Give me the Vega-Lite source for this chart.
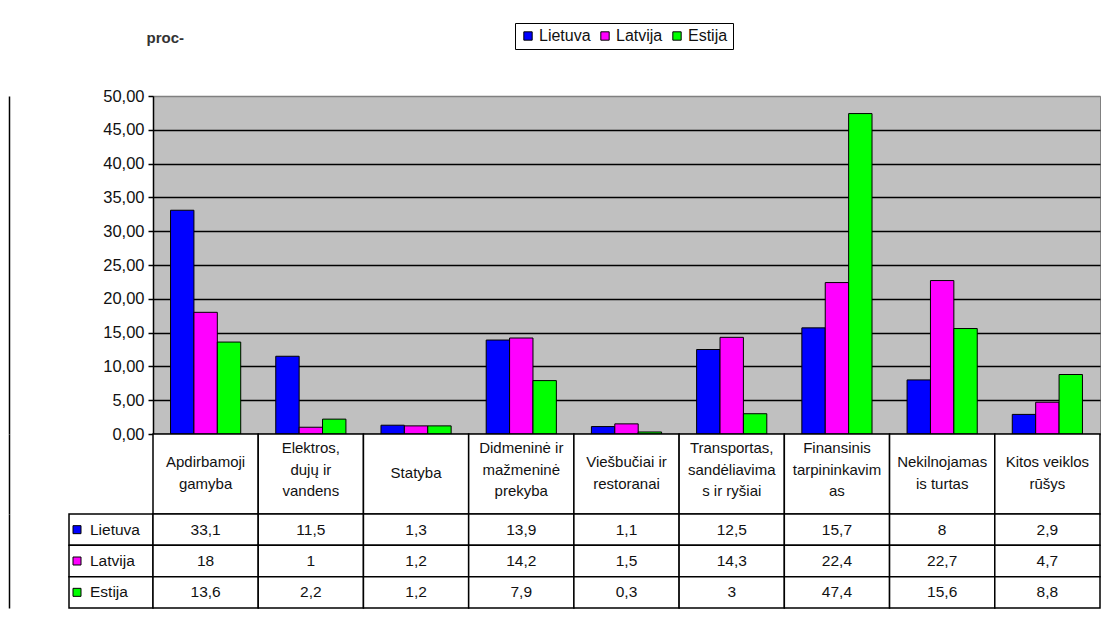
{
  "$schema": "https://vega.github.io/schema/vega-lite/v6.json",
  "padding": {"left": 9, "top": 22, "right": 0, "bottom": 10},
  "config": {
    "font": "Liberation Sans",
    "view": {"stroke": null},
    "locale": {"number": {"decimal": ",", "thousands": " ", "grouping": [3], "currency": ["", " €"]}}
  },
  "datasets": {
    "d": [
      {"cat": "Apdirbamoji\ngamyba", "country": "Lietuva", "value": 33.1},
      {"cat": "Apdirbamoji\ngamyba", "country": "Latvija", "value": 18},
      {"cat": "Apdirbamoji\ngamyba", "country": "Estija", "value": 13.6},
      {"cat": "Elektros,\ndujų ir\nvandens", "country": "Lietuva", "value": 11.5},
      {"cat": "Elektros,\ndujų ir\nvandens", "country": "Latvija", "value": 1},
      {"cat": "Elektros,\ndujų ir\nvandens", "country": "Estija", "value": 2.2},
      {"cat": "Statyba", "country": "Lietuva", "value": 1.3},
      {"cat": "Statyba", "country": "Latvija", "value": 1.2},
      {"cat": "Statyba", "country": "Estija", "value": 1.2},
      {"cat": "Didmeninė ir\nmažmeninė\nprekyba", "country": "Lietuva", "value": 13.9},
      {"cat": "Didmeninė ir\nmažmeninė\nprekyba", "country": "Latvija", "value": 14.2},
      {"cat": "Didmeninė ir\nmažmeninė\nprekyba", "country": "Estija", "value": 7.9},
      {"cat": "Viešbučiai ir\nrestoranai", "country": "Lietuva", "value": 1.1},
      {"cat": "Viešbučiai ir\nrestoranai", "country": "Latvija", "value": 1.5},
      {"cat": "Viešbučiai ir\nrestoranai", "country": "Estija", "value": 0.3},
      {"cat": "Transportas,\nsandėliavima\ns ir  ryšiai", "country": "Lietuva", "value": 12.5},
      {"cat": "Transportas,\nsandėliavima\ns ir  ryšiai", "country": "Latvija", "value": 14.3},
      {"cat": "Transportas,\nsandėliavima\ns ir  ryšiai", "country": "Estija", "value": 3},
      {"cat": "Finansinis\ntarpininkavim\nas", "country": "Lietuva", "value": 15.7},
      {"cat": "Finansinis\ntarpininkavim\nas", "country": "Latvija", "value": 22.4},
      {"cat": "Finansinis\ntarpininkavim\nas", "country": "Estija", "value": 47.4},
      {"cat": "Nekilnojamas\nis turtas", "country": "Lietuva", "value": 8},
      {"cat": "Nekilnojamas\nis turtas", "country": "Latvija", "value": 22.7},
      {"cat": "Nekilnojamas\nis turtas", "country": "Estija", "value": 15.6},
      {"cat": "Kitos veiklos\nrūšys", "country": "Lietuva", "value": 2.9},
      {"cat": "Kitos veiklos\nrūšys", "country": "Latvija", "value": 4.7},
      {"cat": "Kitos veiklos\nrūšys", "country": "Estija", "value": 8.8}
    ]
  },
  "columns": 2,
  "spacing": 0,
  "bounds": "flush",
  "resolve": {"scale": {"x": "independent", "y": "independent", "color": "shared"}},
  "concat": [
    {
      "width": 84, "height": 338,
      "data": {"values": [{}]},
      "mark": {"type": "text"},
      "encoding": {
        "text": {"value": ""},
        "y": {"datum": 0, "type": "quantitative", "axis": {"offset": 60, "labels": false, "ticks": false, "grid": false, "title": null, "domainColor": "black", "domainWidth": 1.5}}
      }
    },
    {
      "width": 947, "height": 338,
      "data": {"name": "d"},
      "view": {"fill": "#c0c0c0", "stroke": "#808080", "strokeWidth": 1},
      "mark": {"type": "bar", "stroke": "black", "strokeWidth": 1},
      "encoding": {
        "x": {"field": "cat", "type": "nominal", "sort": null, "scale": {"paddingInner": 0.333, "paddingOuter": 0.1667}, "axis": null},
        "xOffset": {"field": "country", "type": "nominal", "sort": ["Lietuva", "Latvija", "Estija"], "scale": {"paddingInner": 0, "paddingOuter": 0}},
        "y": {
          "field": "value", "type": "quantitative",
          "scale": {"domain": [0, 50], "nice": false, "zero": true},
          "axis": {
            "values": [0, 5, 10, 15, 20, 25, 30, 35, 40, 45, 50],
            "format": ".2f",
            "labelFontSize": 16.5,
            "labelColor": "#111",
            "labelPadding": 4,
            "tickSize": 5,
            "tickColor": "black",
            "tickWidth": 1.5,
            "domainColor": "black",
            "domainWidth": 1.5,
            "grid": true,
            "gridColor": {"condition": {"test": "datum.value === 50", "value": "#808080"}, "value": "black"},
            "gridWidth": 1.5,
            "gridOpacity": 1,
            "title": "proc-",
            "titleAngle": 0,
            "titleAlign": "left",
            "titleBaseline": "alphabetic",
            "titleX": -7,
            "titleY": -54,
            "titleFontSize": 15,
            "titleFontWeight": "bold",
            "titleColor": "#333"
          }
        },
        "color": {
          "field": "country", "type": "nominal",
          "sort": ["Lietuva", "Latvija", "Estija"],
          "scale": {"domain": ["Lietuva", "Latvija", "Estija"], "range": ["#0000ff", "#ff00ff", "#00ff00"]},
          "legend": {
            "orient": "none", "legendX": 446, "legendY": -73,
            "direction": "horizontal", "title": null,
            "symbolType": "square", "symbolSize": 70,
            "symbolStrokeColor": "black", "symbolStrokeWidth": 1,
            "labelFontSize": 16, "labelColor": "#111", "labelOffset": 3,
            "columnPadding": 6, "padding": 5,
            "strokeColor": "black"
          }
        }
      }
    },
    {
      "width": 84, "height": 80,
      "data": {"values": [{}]},
      "mark": {"type": "text"},
      "encoding": {
        "text": {"value": ""},
        "y": {"datum": 0, "type": "quantitative", "axis": {"offset": 60, "labels": false, "ticks": false, "grid": false, "title": null, "domainColor": "black", "domainWidth": 1.5}}
      }
    },
    {
      "width": 947, "height": 80,
      "data": {"name": "d"},
      "transform": [{"filter": "datum.country === 'Lietuva'"}],
      "encoding": {
        "x": {"field": "cat", "type": "nominal", "sort": null, "scale": {"paddingInner": 0, "paddingOuter": 0}, "axis": null}
      },
      "layer": [
        {"mark": {"type": "rect", "fill": "white", "stroke": "black", "strokeWidth": 1.5}},
        {"transform": [{"filter": "length(split(datum.cat, '\\n')) === 1"}],
         "mark": {"type": "text", "lineBreak": "\n", "fontSize": 15, "lineHeight": 21.5, "baseline": "middle", "align": "center", "color": "#111", "dy": -1},
         "encoding": {"text": {"field": "cat"}}},
        {"transform": [{"filter": "length(split(datum.cat, '\\n')) === 2"}],
         "mark": {"type": "text", "lineBreak": "\n", "fontSize": 15, "lineHeight": 21.5, "baseline": "middle", "align": "center", "color": "#111", "dy": -12},
         "encoding": {"text": {"field": "cat"}}},
        {"transform": [{"filter": "length(split(datum.cat, '\\n')) === 3"}],
         "mark": {"type": "text", "lineBreak": "\n", "fontSize": 15, "lineHeight": 21.5, "baseline": "middle", "align": "center", "color": "#111", "dy": -26},
         "encoding": {"text": {"field": "cat"}}}
      ]
    },
    {
      "width": 84, "height": 94,
      "data": {"name": "d"},
      "transform": [{"filter": "datum.cat === 'Statyba'"}],
      "encoding": {
        "y": {"field": "country", "type": "nominal", "sort": ["Lietuva", "Latvija", "Estija"], "scale": {"paddingInner": 0, "paddingOuter": 0}, "axis": {"offset": 60, "labels": false, "ticks": false, "grid": false, "title": null, "domainColor": "black", "domainWidth": 1.5}}
      },
      "layer": [
        {"mark": {"type": "rect", "fill": "white", "stroke": "black", "strokeWidth": 1.5}},
        {"mark": {"type": "square", "size": 64, "filled": true, "stroke": "black", "strokeWidth": 1, "opacity": 1, "xOffset": -34},
         "encoding": {"color": {"field": "country", "type": "nominal", "legend": null}}},
        {"mark": {"type": "text", "fontSize": 15.5, "align": "left", "baseline": "middle", "dx": -21, "color": "#111"},
         "encoding": {"text": {"field": "country"}}}
      ]
    },
    {
      "width": 947, "height": 94,
      "data": {"name": "d"},
      "encoding": {
        "x": {"field": "cat", "type": "nominal", "sort": null, "scale": {"paddingInner": 0, "paddingOuter": 0}, "axis": null},
        "y": {"field": "country", "type": "nominal", "sort": ["Lietuva", "Latvija", "Estija"], "scale": {"paddingInner": 0, "paddingOuter": 0}, "axis": null}
      },
      "layer": [
        {"mark": {"type": "rect", "fill": "white", "stroke": "black", "strokeWidth": 1.5}},
        {"mark": {"type": "text", "fontSize": 15.5, "align": "center", "baseline": "middle", "color": "#111"},
         "encoding": {"text": {"field": "value", "type": "quantitative", "format": "~f"}}}
      ]
    }
  ]
}
